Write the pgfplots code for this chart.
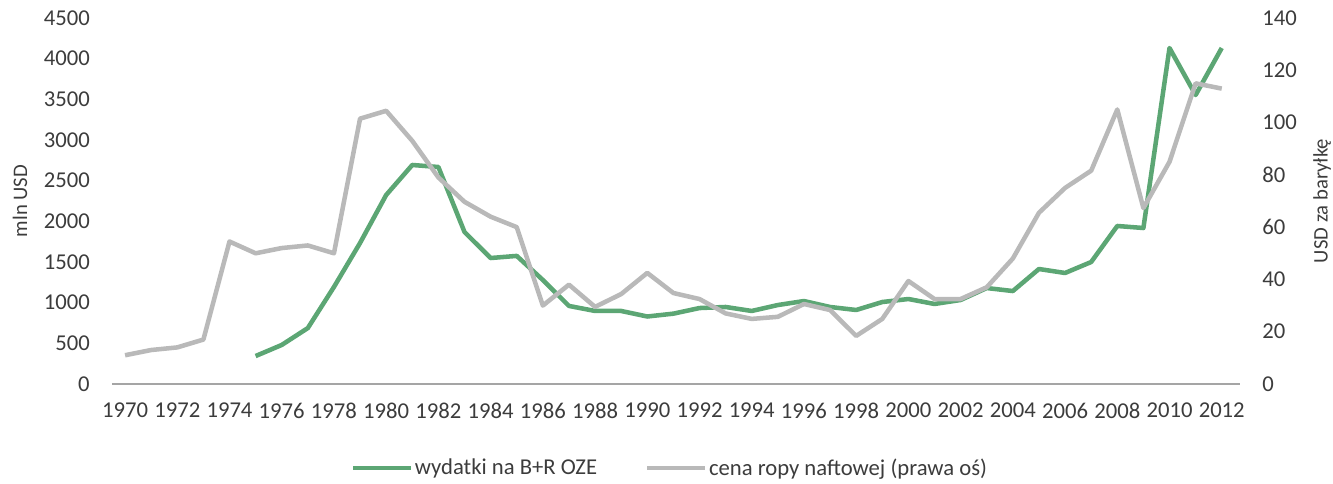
\documentclass[border=0pt]{standalone}
\usepackage{fontspec}
\setmainfont{Carlito}
\usepackage{pgfplots}
\usepackage{pgfplotstable}
\pgfplotsset{compat=1.18}
\definecolor{ozegreen}{RGB}{92,166,116}
\definecolor{oilgray}{RGB}{185,185,185}
\definecolor{axgray}{RGB}{165,165,165}
\definecolor{txt}{RGB}{60,60,60}
\pgfplotstableread{
year oze
1975 344
1976 480
1977 688
1978 1193
1979 1734
1980 2324
1981 2693
1982 2668
1983 1869
1984 1549
1985 1575
1986 1279
1987 960
1988 898
1989 898
1990 830
1991 865
1992 934
1993 947
1994 898
1995 971
1996 1020
1997 947
1998 910
1999 1008
2000 1045
2001 984
2002 1033
2003 1180
2004 1143
2005 1414
2006 1365
2007 1500
2008 1943
2009 1918
2010 4131
2011 3553
2012 4131
}\ozetable
\pgfplotstableread{
year oil
1970 11
1971 13
1972 14
1973 17
1974 54.5
1975 50
1976 52
1977 53
1978 50
1979 101.5
1980 104.5
1981 93
1982 79
1983 69.7
1984 64
1985 60
1986 30
1987 38
1988 29.5
1989 34.4
1990 42.5
1991 34.8
1992 32.5
1993 27
1994 24.9
1995 25.7
1996 30.6
1997 28.3
1998 18.4
1999 24.9
2000 39.4
2001 32.5
2002 32.5
2003 37
2004 48
2005 65.5
2006 75
2007 81.6
2008 105
2009 67.3
2010 85
2011 115
2012 113
}\oiltable
\begin{document}
\begin{tikzpicture}
\useasboundingbox (-84pt,-74.25pt) rectangle (915.75pt,288pt);
\pgfplotsset{
 common/.style={
  scale only axis, width=846pt, height=274.5pt,
  xmin=1969.5, xmax=2012.7,
  at={(0,0)}, anchor=south west,
  font=\fontsize{17}{20}\selectfont,
  every tick label/.append style={text=txt, inner sep=0pt},
  major tick length=0pt,
  /pgf/number format/assume math mode=true,
  /pgf/number format/set thousands separator={},
  ylabel style={text=txt, font=\fontsize{15.5}{18}\selectfont},
 }
}
\begin{axis}[common,
  axis x line*=bottom, axis y line*=left,
  y axis line style={draw=none},
  x axis line style={draw=axgray, line width=1.5pt, -},
  xtick={1970,1972,...,2012},
  xticklabel style={anchor=north, yshift=-14pt},
  ymin=0, ymax=4500, ytick={0,500,...,4500},
  yticklabel style={anchor=east, xshift=-16.5pt},
  ylabel={mln USD},
  ylabel style={at={(axis description cs:-0.0816,0.5)}, anchor=center},
]
\addplot[ozegreen, line width=3.4pt, line join=round] table[x=year, y=oze] {\ozetable};
\end{axis}
\begin{axis}[common,
  axis x line=none, axis y line*=right,
  y axis line style={draw=none},
  ymin=0, ymax=140, ytick={0,20,...,140},
  yticklabel style={anchor=west, xshift=16.5pt},
  ylabel={USD za baryłkę},
  ylabel style={at={(axis description cs:1.0727,0.5)}, anchor=center},
  legend style={at={(axis description cs:0.4947,-0.2295)}, anchor=center,
    draw=none, fill=none, legend columns=2, text=txt,
    font=\fontsize{17}{20}\selectfont,
    /tikz/every even column/.append style={column sep=34.5pt},
    nodes={inner sep=1.5pt}},
  legend image code/.code={\draw[#1] (0pt,0pt) -- (43pt,0pt);},
]
\addlegendimage{ozegreen, line width=3.4pt}
\addlegendentry{wydatki na B+R OZE}
\addplot[oilgray, line width=3.4pt, line join=round] table[x=year, y=oil] {\oiltable};
\addlegendentry{cena ropy naftowej (prawa oś)}
\end{axis}
\end{tikzpicture}
\end{document}
